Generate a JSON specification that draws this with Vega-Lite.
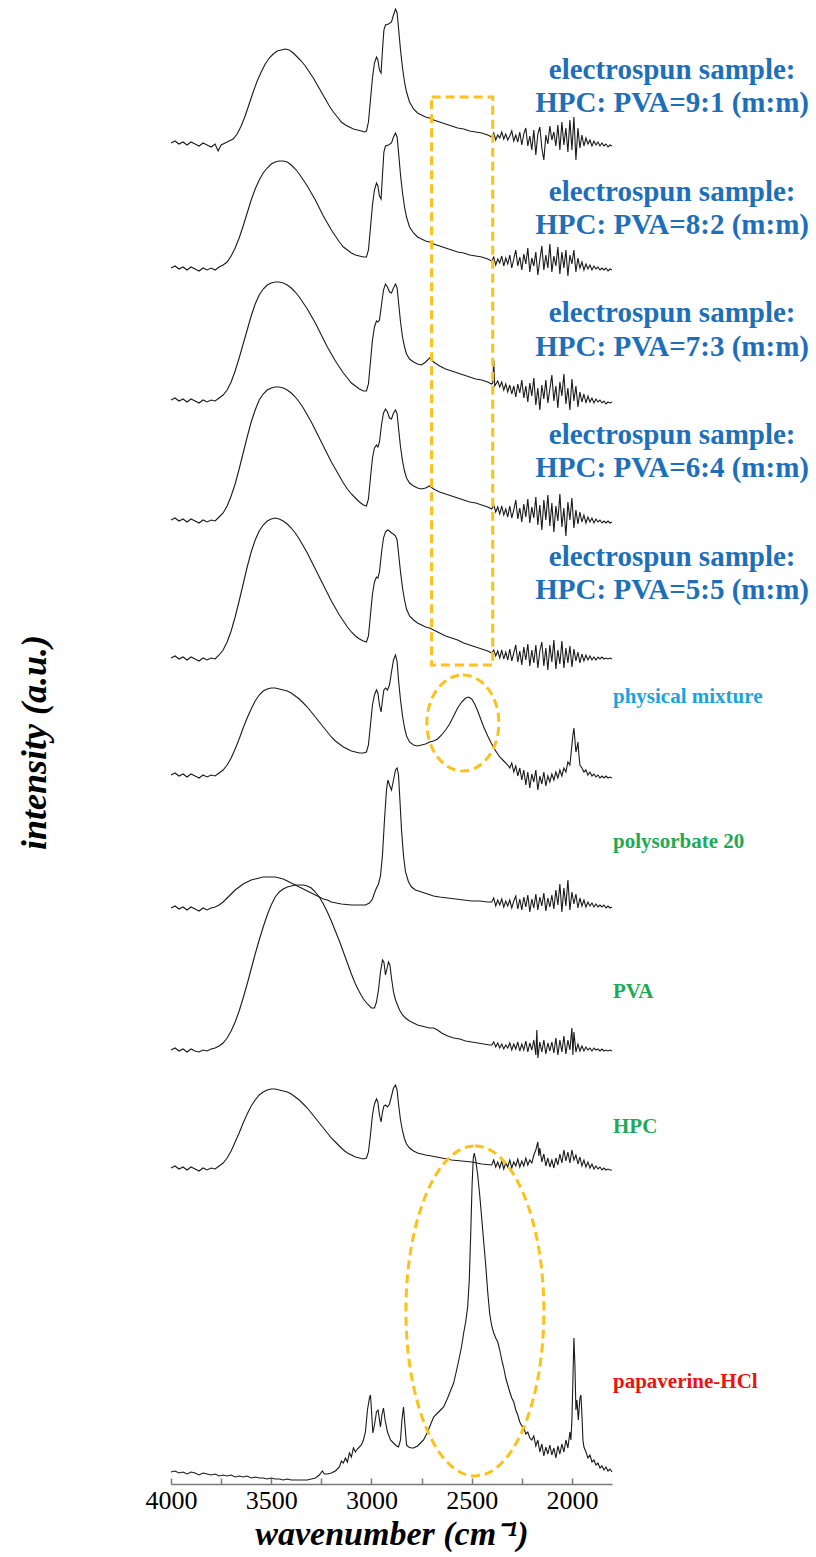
{
"$schema": "https://vega.github.io/schema/vega-lite/v6.json",
"width": 441,
"height": 1484,
"autosize": {"type": "none"},
"padding": {"left": 171, "top": 0, "right": 204, "bottom": 73},
"background": "white",
"config": {"view": {"stroke": null}, "font": "Liberation Serif", "axis": {"grid": false}},
"encoding": {
  "x": {"field": "w", "type": "quantitative",
    "scale": {"domain": [4000, 1800], "nice": false, "zero": false},
    "axis": {"values": [4000, 3750, 3500, 3250, 3000, 2750, 2500, 2250, 2000], "format": "d",
      "labelExpr": "datum.value % 500 === 0 ? datum.label : ''",
      "tickSize": -6, "tickColor": "#7a7a7a", "tickWidth": 1.5, "domainColor": "#7a7a7a", "domainWidth": 1.5,
      "labelPadding": 9, "labelFlush": false, "labelBound": false, "labelOverlap": false,
      "labelFont": "Liberation Serif", "labelFontSize": 26, "labelColor": "black",
      "title": "wavenumber (cm⁻¹)", "titleFont": "Liberation Serif", "titleFontSize": 34,
      "titleFontWeight": "bold", "titleFontStyle": "italic", "titleColor": "black", "titlePadding": 4}},
  "y": {"field": "i", "type": "quantitative",
    "scale": {"domain": [0, 1484], "nice": false, "zero": false},
    "axis": {"domain": false, "ticks": false, "labels": false,
      "title": "intensity (a.u.)", "titleFont": "Liberation Serif", "titleFontSize": 36,
      "titleFontWeight": "bold", "titleFontStyle": "italic", "titleColor": "black", "titlePadding": 118}}
},
"layer": [
{
"data": {"values": [
{"s":"9:1","w":4000,"i":1341},{"s":"9:1","w":3980,"i":1343},{"s":"9:1","w":3960,"i":1340},{"s":"9:1","w":3940,"i":1342},{"s":"9:1","w":3920,"i":1339},{"s":"9:1","w":3900,"i":1342},{"s":"9:1","w":3880,"i":1340},{"s":"9:1","w":3860,"i":1338},{"s":"9:1","w":3840,"i":1341},{"s":"9:1","w":3820,"i":1339},{"s":"9:1","w":3800,"i":1337},{"s":"9:1","w":3780,"i":1340},{"s":"9:1","w":3765,"i":1333},{"s":"9:1","w":3750,"i":1339},{"s":"9:1","w":3730,"i":1341},{"s":"9:1","w":3710,"i":1343},{"s":"9:1","w":3690,"i":1345},{"s":"9:1","w":3670,"i":1350},{"s":"9:1","w":3650,"i":1358},{"s":"9:1","w":3630,"i":1368},{"s":"9:1","w":3610,"i":1380},{"s":"9:1","w":3590,"i":1392},{"s":"9:1","w":3570,"i":1403},{"s":"9:1","w":3550,"i":1412},{"s":"9:1","w":3530,"i":1420},{"s":"9:1","w":3510,"i":1426},{"s":"9:1","w":3490,"i":1430},{"s":"9:1","w":3470,"i":1433},{"s":"9:1","w":3450,"i":1434},{"s":"9:1","w":3430,"i":1435},{"s":"9:1","w":3410,"i":1434},{"s":"9:1","w":3390,"i":1431},{"s":"9:1","w":3370,"i":1427},{"s":"9:1","w":3350,"i":1423},{"s":"9:1","w":3330,"i":1418},{"s":"9:1","w":3310,"i":1412},{"s":"9:1","w":3290,"i":1406},{"s":"9:1","w":3270,"i":1399},{"s":"9:1","w":3250,"i":1392},{"s":"9:1","w":3230,"i":1385},{"s":"9:1","w":3210,"i":1378},{"s":"9:1","w":3190,"i":1372},{"s":"9:1","w":3170,"i":1367},{"s":"9:1","w":3150,"i":1362},{"s":"9:1","w":3130,"i":1359},{"s":"9:1","w":3110,"i":1357},{"s":"9:1","w":3090,"i":1355},{"s":"9:1","w":3070,"i":1354},{"s":"9:1","w":3050,"i":1353},{"s":"9:1","w":3035,"i":1352},{"s":"9:1","w":3025,"i":1353},{"s":"9:1","w":3015,"i":1362},{"s":"9:1","w":3005,"i":1384},{"s":"9:1","w":2995,"i":1406},{"s":"9:1","w":2985,"i":1421},{"s":"9:1","w":2975,"i":1427},{"s":"9:1","w":2968,"i":1424},{"s":"9:1","w":2960,"i":1414},{"s":"9:1","w":2952,"i":1411},{"s":"9:1","w":2945,"i":1434},{"s":"9:1","w":2938,"i":1454},{"s":"9:1","w":2930,"i":1459},{"s":"9:1","w":2915,"i":1460},{"s":"9:1","w":2900,"i":1462},{"s":"9:1","w":2890,"i":1469},{"s":"9:1","w":2880,"i":1475},{"s":"9:1","w":2872,"i":1471},{"s":"9:1","w":2865,"i":1456},{"s":"9:1","w":2855,"i":1434},{"s":"9:1","w":2845,"i":1416},{"s":"9:1","w":2835,"i":1402},{"s":"9:1","w":2825,"i":1392},{"s":"9:1","w":2810,"i":1382},{"s":"9:1","w":2790,"i":1375},{"s":"9:1","w":2770,"i":1371},{"s":"9:1","w":2750,"i":1369},{"s":"9:1","w":2730,"i":1367},{"s":"9:1","w":2710,"i":1366},{"s":"9:1","w":2690,"i":1364},{"s":"9:1","w":2660,"i":1362},{"s":"9:1","w":2630,"i":1360},{"s":"9:1","w":2600,"i":1358},{"s":"9:1","w":2570,"i":1356},{"s":"9:1","w":2540,"i":1355},{"s":"9:1","w":2510,"i":1353},{"s":"9:1","w":2480,"i":1352},{"s":"9:1","w":2450,"i":1351},{"s":"9:1","w":2420,"i":1349},{"s":"9:1","w":2400,"i":1347},{"s":"9:1","w":2390,"i":1351},{"s":"9:1","w":2380,"i":1344},{"s":"9:1","w":2370,"i":1349},{"s":"9:1","w":2360,"i":1346},{"s":"9:1","w":2350,"i":1352},{"s":"9:1","w":2340,"i":1345},{"s":"9:1","w":2330,"i":1350},{"s":"9:1","w":2320,"i":1344},{"s":"9:1","w":2310,"i":1348},{"s":"9:1","w":2300,"i":1353},{"s":"9:1","w":2290,"i":1343},{"s":"9:1","w":2280,"i":1349},{"s":"9:1","w":2270,"i":1342},{"s":"9:1","w":2260,"i":1352},{"s":"9:1","w":2250,"i":1339},{"s":"9:1","w":2240,"i":1350},{"s":"9:1","w":2230,"i":1356},{"s":"9:1","w":2220,"i":1338},{"s":"9:1","w":2210,"i":1348},{"s":"9:1","w":2200,"i":1334},{"s":"9:1","w":2190,"i":1354},{"s":"9:1","w":2180,"i":1329},{"s":"9:1","w":2170,"i":1350},{"s":"9:1","w":2160,"i":1357},{"s":"9:1","w":2150,"i":1336},{"s":"9:1","w":2140,"i":1324},{"s":"9:1","w":2130,"i":1349},{"s":"9:1","w":2120,"i":1340},{"s":"9:1","w":2110,"i":1358},{"s":"9:1","w":2100,"i":1344},{"s":"9:1","w":2090,"i":1352},{"s":"9:1","w":2080,"i":1338},{"s":"9:1","w":2070,"i":1359},{"s":"9:1","w":2060,"i":1334},{"s":"9:1","w":2050,"i":1362},{"s":"9:1","w":2040,"i":1339},{"s":"9:1","w":2030,"i":1356},{"s":"9:1","w":2020,"i":1332},{"s":"9:1","w":2010,"i":1364},{"s":"9:1","w":2000,"i":1334},{"s":"9:1","w":1990,"i":1367},{"s":"9:1","w":1980,"i":1324},{"s":"9:1","w":1970,"i":1356},{"s":"9:1","w":1960,"i":1336},{"s":"9:1","w":1950,"i":1349},{"s":"9:1","w":1940,"i":1338},{"s":"9:1","w":1930,"i":1346},{"s":"9:1","w":1920,"i":1340},{"s":"9:1","w":1910,"i":1344},{"s":"9:1","w":1900,"i":1338},{"s":"9:1","w":1890,"i":1343},{"s":"9:1","w":1880,"i":1339},{"s":"9:1","w":1870,"i":1342},{"s":"9:1","w":1860,"i":1338},{"s":"9:1","w":1850,"i":1341},{"s":"9:1","w":1840,"i":1338},{"s":"9:1","w":1830,"i":1340},{"s":"9:1","w":1820,"i":1337},{"s":"9:1","w":1810,"i":1339},{"s":"9:1","w":1800,"i":1338},
{"s":"8:2","w":4000,"i":1216},{"s":"8:2","w":3980,"i":1218},{"s":"8:2","w":3960,"i":1215},{"s":"8:2","w":3940,"i":1217},{"s":"8:2","w":3920,"i":1214},{"s":"8:2","w":3900,"i":1217},{"s":"8:2","w":3880,"i":1215},{"s":"8:2","w":3860,"i":1213},{"s":"8:2","w":3840,"i":1216},{"s":"8:2","w":3820,"i":1214},{"s":"8:2","w":3800,"i":1216},{"s":"8:2","w":3780,"i":1214},{"s":"8:2","w":3760,"i":1217},{"s":"8:2","w":3740,"i":1219},{"s":"8:2","w":3720,"i":1222},{"s":"8:2","w":3700,"i":1228},{"s":"8:2","w":3680,"i":1236},{"s":"8:2","w":3660,"i":1246},{"s":"8:2","w":3640,"i":1258},{"s":"8:2","w":3620,"i":1271},{"s":"8:2","w":3600,"i":1284},{"s":"8:2","w":3580,"i":1295},{"s":"8:2","w":3560,"i":1304},{"s":"8:2","w":3540,"i":1311},{"s":"8:2","w":3520,"i":1316},{"s":"8:2","w":3500,"i":1320},{"s":"8:2","w":3480,"i":1322},{"s":"8:2","w":3460,"i":1323},{"s":"8:2","w":3440,"i":1323},{"s":"8:2","w":3420,"i":1322},{"s":"8:2","w":3400,"i":1319},{"s":"8:2","w":3380,"i":1315},{"s":"8:2","w":3360,"i":1310},{"s":"8:2","w":3340,"i":1304},{"s":"8:2","w":3320,"i":1298},{"s":"8:2","w":3300,"i":1291},{"s":"8:2","w":3280,"i":1284},{"s":"8:2","w":3260,"i":1276},{"s":"8:2","w":3240,"i":1268},{"s":"8:2","w":3220,"i":1261},{"s":"8:2","w":3200,"i":1254},{"s":"8:2","w":3180,"i":1248},{"s":"8:2","w":3160,"i":1242},{"s":"8:2","w":3140,"i":1237},{"s":"8:2","w":3120,"i":1234},{"s":"8:2","w":3100,"i":1231},{"s":"8:2","w":3080,"i":1229},{"s":"8:2","w":3060,"i":1228},{"s":"8:2","w":3040,"i":1227},{"s":"8:2","w":3025,"i":1227},{"s":"8:2","w":3015,"i":1234},{"s":"8:2","w":3005,"i":1256},{"s":"8:2","w":2995,"i":1279},{"s":"8:2","w":2985,"i":1294},{"s":"8:2","w":2975,"i":1301},{"s":"8:2","w":2968,"i":1298},{"s":"8:2","w":2960,"i":1288},{"s":"8:2","w":2952,"i":1285},{"s":"8:2","w":2945,"i":1309},{"s":"8:2","w":2938,"i":1332},{"s":"8:2","w":2930,"i":1338},{"s":"8:2","w":2915,"i":1339},{"s":"8:2","w":2900,"i":1341},{"s":"8:2","w":2890,"i":1347},{"s":"8:2","w":2880,"i":1351},{"s":"8:2","w":2872,"i":1347},{"s":"8:2","w":2865,"i":1332},{"s":"8:2","w":2855,"i":1309},{"s":"8:2","w":2845,"i":1291},{"s":"8:2","w":2835,"i":1277},{"s":"8:2","w":2825,"i":1267},{"s":"8:2","w":2810,"i":1257},{"s":"8:2","w":2790,"i":1251},{"s":"8:2","w":2770,"i":1247},{"s":"8:2","w":2750,"i":1245},{"s":"8:2","w":2730,"i":1243},{"s":"8:2","w":2710,"i":1242},{"s":"8:2","w":2690,"i":1240},{"s":"8:2","w":2660,"i":1238},{"s":"8:2","w":2630,"i":1236},{"s":"8:2","w":2600,"i":1234},{"s":"8:2","w":2570,"i":1232},{"s":"8:2","w":2540,"i":1231},{"s":"8:2","w":2510,"i":1229},{"s":"8:2","w":2480,"i":1228},{"s":"8:2","w":2450,"i":1227},{"s":"8:2","w":2420,"i":1225},{"s":"8:2","w":2400,"i":1223},{"s":"8:2","w":2390,"i":1227},{"s":"8:2","w":2380,"i":1219},{"s":"8:2","w":2370,"i":1225},{"s":"8:2","w":2360,"i":1221},{"s":"8:2","w":2350,"i":1228},{"s":"8:2","w":2340,"i":1218},{"s":"8:2","w":2330,"i":1226},{"s":"8:2","w":2320,"i":1220},{"s":"8:2","w":2310,"i":1229},{"s":"8:2","w":2300,"i":1216},{"s":"8:2","w":2290,"i":1225},{"s":"8:2","w":2280,"i":1234},{"s":"8:2","w":2270,"i":1218},{"s":"8:2","w":2260,"i":1227},{"s":"8:2","w":2250,"i":1214},{"s":"8:2","w":2240,"i":1230},{"s":"8:2","w":2230,"i":1220},{"s":"8:2","w":2220,"i":1236},{"s":"8:2","w":2210,"i":1212},{"s":"8:2","w":2200,"i":1226},{"s":"8:2","w":2190,"i":1218},{"s":"8:2","w":2180,"i":1232},{"s":"8:2","w":2170,"i":1209},{"s":"8:2","w":2160,"i":1224},{"s":"8:2","w":2150,"i":1238},{"s":"8:2","w":2140,"i":1214},{"s":"8:2","w":2130,"i":1229},{"s":"8:2","w":2120,"i":1216},{"s":"8:2","w":2110,"i":1240},{"s":"8:2","w":2100,"i":1212},{"s":"8:2","w":2090,"i":1228},{"s":"8:2","w":2080,"i":1218},{"s":"8:2","w":2070,"i":1237},{"s":"8:2","w":2060,"i":1210},{"s":"8:2","w":2050,"i":1232},{"s":"8:2","w":2040,"i":1216},{"s":"8:2","w":2030,"i":1234},{"s":"8:2","w":2020,"i":1208},{"s":"8:2","w":2010,"i":1229},{"s":"8:2","w":2000,"i":1220},{"s":"8:2","w":1990,"i":1234},{"s":"8:2","w":1980,"i":1212},{"s":"8:2","w":1970,"i":1226},{"s":"8:2","w":1960,"i":1216},{"s":"8:2","w":1950,"i":1222},{"s":"8:2","w":1940,"i":1214},{"s":"8:2","w":1930,"i":1220},{"s":"8:2","w":1920,"i":1215},{"s":"8:2","w":1910,"i":1219},{"s":"8:2","w":1900,"i":1214},{"s":"8:2","w":1890,"i":1218},{"s":"8:2","w":1880,"i":1215},{"s":"8:2","w":1870,"i":1217},{"s":"8:2","w":1860,"i":1214},{"s":"8:2","w":1850,"i":1216},{"s":"8:2","w":1840,"i":1214},{"s":"8:2","w":1830,"i":1216},{"s":"8:2","w":1820,"i":1213},{"s":"8:2","w":1810,"i":1215},{"s":"8:2","w":1800,"i":1214},
{"s":"7:3","w":4000,"i":1084},{"s":"7:3","w":3980,"i":1086},{"s":"7:3","w":3960,"i":1083},{"s":"7:3","w":3940,"i":1085},{"s":"7:3","w":3920,"i":1082},{"s":"7:3","w":3900,"i":1085},{"s":"7:3","w":3880,"i":1083},{"s":"7:3","w":3860,"i":1081},{"s":"7:3","w":3840,"i":1084},{"s":"7:3","w":3820,"i":1082},{"s":"7:3","w":3800,"i":1084},{"s":"7:3","w":3780,"i":1083},{"s":"7:3","w":3760,"i":1086},{"s":"7:3","w":3740,"i":1089},{"s":"7:3","w":3720,"i":1094},{"s":"7:3","w":3700,"i":1102},{"s":"7:3","w":3680,"i":1113},{"s":"7:3","w":3660,"i":1126},{"s":"7:3","w":3640,"i":1140},{"s":"7:3","w":3620,"i":1154},{"s":"7:3","w":3600,"i":1168},{"s":"7:3","w":3580,"i":1180},{"s":"7:3","w":3560,"i":1189},{"s":"7:3","w":3540,"i":1195},{"s":"7:3","w":3520,"i":1199},{"s":"7:3","w":3500,"i":1201},{"s":"7:3","w":3480,"i":1202},{"s":"7:3","w":3460,"i":1202},{"s":"7:3","w":3440,"i":1201},{"s":"7:3","w":3420,"i":1199},{"s":"7:3","w":3400,"i":1196},{"s":"7:3","w":3380,"i":1192},{"s":"7:3","w":3360,"i":1187},{"s":"7:3","w":3340,"i":1181},{"s":"7:3","w":3320,"i":1175},{"s":"7:3","w":3300,"i":1168},{"s":"7:3","w":3280,"i":1161},{"s":"7:3","w":3260,"i":1153},{"s":"7:3","w":3240,"i":1145},{"s":"7:3","w":3220,"i":1137},{"s":"7:3","w":3200,"i":1130},{"s":"7:3","w":3180,"i":1123},{"s":"7:3","w":3160,"i":1117},{"s":"7:3","w":3140,"i":1111},{"s":"7:3","w":3120,"i":1106},{"s":"7:3","w":3100,"i":1101},{"s":"7:3","w":3080,"i":1098},{"s":"7:3","w":3060,"i":1095},{"s":"7:3","w":3040,"i":1093},{"s":"7:3","w":3025,"i":1093},{"s":"7:3","w":3015,"i":1100},{"s":"7:3","w":3005,"i":1122},{"s":"7:3","w":2995,"i":1144},{"s":"7:3","w":2985,"i":1157},{"s":"7:3","w":2975,"i":1163},{"s":"7:3","w":2968,"i":1162},{"s":"7:3","w":2960,"i":1164},{"s":"7:3","w":2950,"i":1179},{"s":"7:3","w":2940,"i":1194},{"s":"7:3","w":2930,"i":1200},{"s":"7:3","w":2920,"i":1197},{"s":"7:3","w":2910,"i":1192},{"s":"7:3","w":2900,"i":1191},{"s":"7:3","w":2890,"i":1196},{"s":"7:3","w":2880,"i":1200},{"s":"7:3","w":2872,"i":1196},{"s":"7:3","w":2865,"i":1182},{"s":"7:3","w":2855,"i":1162},{"s":"7:3","w":2845,"i":1147},{"s":"7:3","w":2835,"i":1137},{"s":"7:3","w":2825,"i":1130},{"s":"7:3","w":2810,"i":1125},{"s":"7:3","w":2790,"i":1122},{"s":"7:3","w":2770,"i":1120},{"s":"7:3","w":2750,"i":1119},{"s":"7:3","w":2730,"i":1122},{"s":"7:3","w":2710,"i":1126},{"s":"7:3","w":2690,"i":1122},{"s":"7:3","w":2660,"i":1118},{"s":"7:3","w":2630,"i":1115},{"s":"7:3","w":2600,"i":1113},{"s":"7:3","w":2570,"i":1111},{"s":"7:3","w":2540,"i":1109},{"s":"7:3","w":2510,"i":1107},{"s":"7:3","w":2480,"i":1105},{"s":"7:3","w":2450,"i":1104},{"s":"7:3","w":2420,"i":1102},{"s":"7:3","w":2400,"i":1100},{"s":"7:3","w":2395,"i":1101},{"s":"7:3","w":2390,"i":1124},{"s":"7:3","w":2385,"i":1098},{"s":"7:3","w":2370,"i":1103},{"s":"7:3","w":2360,"i":1097},{"s":"7:3","w":2350,"i":1102},{"s":"7:3","w":2340,"i":1094},{"s":"7:3","w":2330,"i":1100},{"s":"7:3","w":2320,"i":1092},{"s":"7:3","w":2310,"i":1099},{"s":"7:3","w":2300,"i":1090},{"s":"7:3","w":2290,"i":1098},{"s":"7:3","w":2280,"i":1087},{"s":"7:3","w":2270,"i":1100},{"s":"7:3","w":2260,"i":1091},{"s":"7:3","w":2250,"i":1104},{"s":"7:3","w":2240,"i":1086},{"s":"7:3","w":2230,"i":1098},{"s":"7:3","w":2220,"i":1082},{"s":"7:3","w":2210,"i":1101},{"s":"7:3","w":2200,"i":1088},{"s":"7:3","w":2190,"i":1106},{"s":"7:3","w":2180,"i":1079},{"s":"7:3","w":2170,"i":1096},{"s":"7:3","w":2160,"i":1074},{"s":"7:3","w":2150,"i":1099},{"s":"7:3","w":2140,"i":1085},{"s":"7:3","w":2130,"i":1104},{"s":"7:3","w":2120,"i":1081},{"s":"7:3","w":2110,"i":1095},{"s":"7:3","w":2100,"i":1109},{"s":"7:3","w":2090,"i":1083},{"s":"7:3","w":2080,"i":1098},{"s":"7:3","w":2070,"i":1076},{"s":"7:3","w":2060,"i":1102},{"s":"7:3","w":2050,"i":1088},{"s":"7:3","w":2040,"i":1110},{"s":"7:3","w":2030,"i":1080},{"s":"7:3","w":2020,"i":1096},{"s":"7:3","w":2010,"i":1074},{"s":"7:3","w":2000,"i":1105},{"s":"7:3","w":1990,"i":1083},{"s":"7:3","w":1980,"i":1098},{"s":"7:3","w":1970,"i":1077},{"s":"7:3","w":1960,"i":1092},{"s":"7:3","w":1950,"i":1082},{"s":"7:3","w":1940,"i":1090},{"s":"7:3","w":1930,"i":1081},{"s":"7:3","w":1920,"i":1088},{"s":"7:3","w":1910,"i":1082},{"s":"7:3","w":1900,"i":1086},{"s":"7:3","w":1890,"i":1081},{"s":"7:3","w":1880,"i":1085},{"s":"7:3","w":1870,"i":1082},{"s":"7:3","w":1860,"i":1084},{"s":"7:3","w":1850,"i":1081},{"s":"7:3","w":1840,"i":1083},{"s":"7:3","w":1830,"i":1080},{"s":"7:3","w":1820,"i":1082},{"s":"7:3","w":1810,"i":1081},{"s":"7:3","w":1800,"i":1082},
{"s":"6:4","w":4000,"i":964},{"s":"6:4","w":3980,"i":966},{"s":"6:4","w":3960,"i":963},{"s":"6:4","w":3940,"i":965},{"s":"6:4","w":3920,"i":962},{"s":"6:4","w":3900,"i":965},{"s":"6:4","w":3880,"i":963},{"s":"6:4","w":3860,"i":961},{"s":"6:4","w":3840,"i":964},{"s":"6:4","w":3820,"i":962},{"s":"6:4","w":3800,"i":964},{"s":"6:4","w":3780,"i":963},{"s":"6:4","w":3760,"i":967},{"s":"6:4","w":3740,"i":971},{"s":"6:4","w":3720,"i":978},{"s":"6:4","w":3700,"i":988},{"s":"6:4","w":3680,"i":1000},{"s":"6:4","w":3660,"i":1015},{"s":"6:4","w":3640,"i":1031},{"s":"6:4","w":3620,"i":1047},{"s":"6:4","w":3600,"i":1062},{"s":"6:4","w":3580,"i":1074},{"s":"6:4","w":3560,"i":1084},{"s":"6:4","w":3540,"i":1090},{"s":"6:4","w":3520,"i":1094},{"s":"6:4","w":3500,"i":1096},{"s":"6:4","w":3480,"i":1097},{"s":"6:4","w":3460,"i":1097},{"s":"6:4","w":3440,"i":1096},{"s":"6:4","w":3420,"i":1094},{"s":"6:4","w":3400,"i":1091},{"s":"6:4","w":3380,"i":1087},{"s":"6:4","w":3360,"i":1082},{"s":"6:4","w":3340,"i":1076},{"s":"6:4","w":3320,"i":1069},{"s":"6:4","w":3300,"i":1062},{"s":"6:4","w":3280,"i":1054},{"s":"6:4","w":3260,"i":1046},{"s":"6:4","w":3240,"i":1038},{"s":"6:4","w":3220,"i":1030},{"s":"6:4","w":3200,"i":1022},{"s":"6:4","w":3180,"i":1015},{"s":"6:4","w":3160,"i":1008},{"s":"6:4","w":3140,"i":1001},{"s":"6:4","w":3120,"i":995},{"s":"6:4","w":3100,"i":990},{"s":"6:4","w":3080,"i":986},{"s":"6:4","w":3060,"i":982},{"s":"6:4","w":3040,"i":979},{"s":"6:4","w":3025,"i":978},{"s":"6:4","w":3015,"i":985},{"s":"6:4","w":3005,"i":1006},{"s":"6:4","w":2995,"i":1026},{"s":"6:4","w":2985,"i":1036},{"s":"6:4","w":2975,"i":1039},{"s":"6:4","w":2968,"i":1037},{"s":"6:4","w":2960,"i":1042},{"s":"6:4","w":2950,"i":1059},{"s":"6:4","w":2940,"i":1071},{"s":"6:4","w":2930,"i":1075},{"s":"6:4","w":2920,"i":1072},{"s":"6:4","w":2910,"i":1066},{"s":"6:4","w":2900,"i":1065},{"s":"6:4","w":2890,"i":1071},{"s":"6:4","w":2880,"i":1074},{"s":"6:4","w":2872,"i":1070},{"s":"6:4","w":2865,"i":1056},{"s":"6:4","w":2855,"i":1037},{"s":"6:4","w":2845,"i":1023},{"s":"6:4","w":2835,"i":1013},{"s":"6:4","w":2825,"i":1006},{"s":"6:4","w":2810,"i":1001},{"s":"6:4","w":2790,"i":998},{"s":"6:4","w":2770,"i":996},{"s":"6:4","w":2750,"i":995},{"s":"6:4","w":2730,"i":996},{"s":"6:4","w":2710,"i":998},{"s":"6:4","w":2690,"i":995},{"s":"6:4","w":2660,"i":992},{"s":"6:4","w":2630,"i":990},{"s":"6:4","w":2600,"i":988},{"s":"6:4","w":2570,"i":986},{"s":"6:4","w":2540,"i":984},{"s":"6:4","w":2510,"i":982},{"s":"6:4","w":2480,"i":981},{"s":"6:4","w":2450,"i":979},{"s":"6:4","w":2420,"i":977},{"s":"6:4","w":2400,"i":975},{"s":"6:4","w":2390,"i":979},{"s":"6:4","w":2380,"i":972},{"s":"6:4","w":2370,"i":977},{"s":"6:4","w":2360,"i":970},{"s":"6:4","w":2350,"i":978},{"s":"6:4","w":2340,"i":969},{"s":"6:4","w":2330,"i":975},{"s":"6:4","w":2320,"i":967},{"s":"6:4","w":2310,"i":978},{"s":"6:4","w":2300,"i":966},{"s":"6:4","w":2290,"i":974},{"s":"6:4","w":2280,"i":984},{"s":"6:4","w":2270,"i":965},{"s":"6:4","w":2260,"i":976},{"s":"6:4","w":2250,"i":962},{"s":"6:4","w":2240,"i":980},{"s":"6:4","w":2230,"i":967},{"s":"6:4","w":2220,"i":985},{"s":"6:4","w":2210,"i":961},{"s":"6:4","w":2200,"i":977},{"s":"6:4","w":2190,"i":966},{"s":"6:4","w":2180,"i":987},{"s":"6:4","w":2170,"i":959},{"s":"6:4","w":2160,"i":979},{"s":"6:4","w":2150,"i":954},{"s":"6:4","w":2140,"i":984},{"s":"6:4","w":2130,"i":964},{"s":"6:4","w":2120,"i":989},{"s":"6:4","w":2110,"i":958},{"s":"6:4","w":2100,"i":981},{"s":"6:4","w":2090,"i":952},{"s":"6:4","w":2080,"i":978},{"s":"6:4","w":2070,"i":963},{"s":"6:4","w":2060,"i":990},{"s":"6:4","w":2050,"i":957},{"s":"6:4","w":2040,"i":976},{"s":"6:4","w":2030,"i":948},{"s":"6:4","w":2020,"i":982},{"s":"6:4","w":2010,"i":964},{"s":"6:4","w":2000,"i":986},{"s":"6:4","w":1990,"i":956},{"s":"6:4","w":1980,"i":974},{"s":"6:4","w":1970,"i":960},{"s":"6:4","w":1960,"i":972},{"s":"6:4","w":1950,"i":962},{"s":"6:4","w":1940,"i":969},{"s":"6:4","w":1930,"i":961},{"s":"6:4","w":1920,"i":967},{"s":"6:4","w":1910,"i":962},{"s":"6:4","w":1900,"i":966},{"s":"6:4","w":1890,"i":961},{"s":"6:4","w":1880,"i":965},{"s":"6:4","w":1870,"i":962},{"s":"6:4","w":1860,"i":964},{"s":"6:4","w":1850,"i":961},{"s":"6:4","w":1840,"i":963},{"s":"6:4","w":1830,"i":961},{"s":"6:4","w":1820,"i":963},{"s":"6:4","w":1810,"i":961},{"s":"6:4","w":1800,"i":962},
{"s":"5:5","w":4000,"i":826},{"s":"5:5","w":3980,"i":828},{"s":"5:5","w":3960,"i":825},{"s":"5:5","w":3940,"i":827},{"s":"5:5","w":3920,"i":824},{"s":"5:5","w":3900,"i":827},{"s":"5:5","w":3880,"i":825},{"s":"5:5","w":3860,"i":823},{"s":"5:5","w":3840,"i":826},{"s":"5:5","w":3820,"i":824},{"s":"5:5","w":3800,"i":826},{"s":"5:5","w":3780,"i":825},{"s":"5:5","w":3760,"i":829},{"s":"5:5","w":3740,"i":834},{"s":"5:5","w":3720,"i":842},{"s":"5:5","w":3700,"i":853},{"s":"5:5","w":3680,"i":867},{"s":"5:5","w":3660,"i":883},{"s":"5:5","w":3640,"i":900},{"s":"5:5","w":3620,"i":917},{"s":"5:5","w":3600,"i":932},{"s":"5:5","w":3580,"i":944},{"s":"5:5","w":3560,"i":953},{"s":"5:5","w":3540,"i":959},{"s":"5:5","w":3520,"i":963},{"s":"5:5","w":3500,"i":965},{"s":"5:5","w":3480,"i":966},{"s":"5:5","w":3460,"i":965},{"s":"5:5","w":3440,"i":963},{"s":"5:5","w":3420,"i":960},{"s":"5:5","w":3400,"i":956},{"s":"5:5","w":3380,"i":951},{"s":"5:5","w":3360,"i":945},{"s":"5:5","w":3340,"i":938},{"s":"5:5","w":3320,"i":931},{"s":"5:5","w":3300,"i":923},{"s":"5:5","w":3280,"i":915},{"s":"5:5","w":3260,"i":907},{"s":"5:5","w":3240,"i":899},{"s":"5:5","w":3220,"i":891},{"s":"5:5","w":3200,"i":883},{"s":"5:5","w":3180,"i":876},{"s":"5:5","w":3160,"i":869},{"s":"5:5","w":3140,"i":863},{"s":"5:5","w":3120,"i":857},{"s":"5:5","w":3100,"i":852},{"s":"5:5","w":3080,"i":848},{"s":"5:5","w":3060,"i":845},{"s":"5:5","w":3040,"i":843},{"s":"5:5","w":3025,"i":842},{"s":"5:5","w":3015,"i":848},{"s":"5:5","w":3005,"i":869},{"s":"5:5","w":2995,"i":890},{"s":"5:5","w":2985,"i":902},{"s":"5:5","w":2975,"i":907},{"s":"5:5","w":2968,"i":906},{"s":"5:5","w":2960,"i":912},{"s":"5:5","w":2950,"i":931},{"s":"5:5","w":2940,"i":946},{"s":"5:5","w":2930,"i":952},{"s":"5:5","w":2920,"i":954},{"s":"5:5","w":2910,"i":953},{"s":"5:5","w":2900,"i":951},{"s":"5:5","w":2890,"i":950},{"s":"5:5","w":2880,"i":948},{"s":"5:5","w":2872,"i":944},{"s":"5:5","w":2865,"i":931},{"s":"5:5","w":2855,"i":912},{"s":"5:5","w":2845,"i":896},{"s":"5:5","w":2835,"i":884},{"s":"5:5","w":2825,"i":875},{"s":"5:5","w":2810,"i":868},{"s":"5:5","w":2790,"i":864},{"s":"5:5","w":2770,"i":861},{"s":"5:5","w":2750,"i":859},{"s":"5:5","w":2730,"i":857},{"s":"5:5","w":2710,"i":856},{"s":"5:5","w":2690,"i":854},{"s":"5:5","w":2660,"i":851},{"s":"5:5","w":2630,"i":848},{"s":"5:5","w":2600,"i":846},{"s":"5:5","w":2570,"i":844},{"s":"5:5","w":2540,"i":841},{"s":"5:5","w":2510,"i":839},{"s":"5:5","w":2480,"i":837},{"s":"5:5","w":2450,"i":835},{"s":"5:5","w":2420,"i":833},{"s":"5:5","w":2400,"i":831},{"s":"5:5","w":2390,"i":834},{"s":"5:5","w":2380,"i":828},{"s":"5:5","w":2370,"i":833},{"s":"5:5","w":2360,"i":826},{"s":"5:5","w":2350,"i":834},{"s":"5:5","w":2340,"i":825},{"s":"5:5","w":2330,"i":832},{"s":"5:5","w":2320,"i":824},{"s":"5:5","w":2310,"i":835},{"s":"5:5","w":2300,"i":823},{"s":"5:5","w":2290,"i":831},{"s":"5:5","w":2280,"i":839},{"s":"5:5","w":2270,"i":822},{"s":"5:5","w":2260,"i":833},{"s":"5:5","w":2250,"i":819},{"s":"5:5","w":2240,"i":837},{"s":"5:5","w":2230,"i":824},{"s":"5:5","w":2220,"i":840},{"s":"5:5","w":2210,"i":818},{"s":"5:5","w":2200,"i":834},{"s":"5:5","w":2190,"i":821},{"s":"5:5","w":2180,"i":839},{"s":"5:5","w":2170,"i":816},{"s":"5:5","w":2160,"i":833},{"s":"5:5","w":2150,"i":842},{"s":"5:5","w":2140,"i":818},{"s":"5:5","w":2130,"i":836},{"s":"5:5","w":2120,"i":814},{"s":"5:5","w":2110,"i":839},{"s":"5:5","w":2100,"i":822},{"s":"5:5","w":2090,"i":844},{"s":"5:5","w":2080,"i":815},{"s":"5:5","w":2070,"i":834},{"s":"5:5","w":2060,"i":820},{"s":"5:5","w":2050,"i":843},{"s":"5:5","w":2040,"i":816},{"s":"5:5","w":2030,"i":836},{"s":"5:5","w":2020,"i":821},{"s":"5:5","w":2010,"i":838},{"s":"5:5","w":2000,"i":817},{"s":"5:5","w":1990,"i":835},{"s":"5:5","w":1980,"i":823},{"s":"5:5","w":1970,"i":832},{"s":"5:5","w":1960,"i":821},{"s":"5:5","w":1950,"i":830},{"s":"5:5","w":1940,"i":823},{"s":"5:5","w":1930,"i":829},{"s":"5:5","w":1920,"i":824},{"s":"5:5","w":1910,"i":828},{"s":"5:5","w":1900,"i":824},{"s":"5:5","w":1890,"i":827},{"s":"5:5","w":1880,"i":824},{"s":"5:5","w":1870,"i":827},{"s":"5:5","w":1860,"i":825},{"s":"5:5","w":1850,"i":827},{"s":"5:5","w":1840,"i":825},{"s":"5:5","w":1830,"i":826},{"s":"5:5","w":1820,"i":825},{"s":"5:5","w":1810,"i":826},{"s":"5:5","w":1800,"i":825},
{"s":"mix","w":4000,"i":709},{"s":"mix","w":3980,"i":711},{"s":"mix","w":3960,"i":708},{"s":"mix","w":3940,"i":710},{"s":"mix","w":3920,"i":707},{"s":"mix","w":3900,"i":710},{"s":"mix","w":3880,"i":708},{"s":"mix","w":3860,"i":706},{"s":"mix","w":3840,"i":709},{"s":"mix","w":3820,"i":707},{"s":"mix","w":3800,"i":709},{"s":"mix","w":3780,"i":708},{"s":"mix","w":3760,"i":711},{"s":"mix","w":3740,"i":714},{"s":"mix","w":3720,"i":719},{"s":"mix","w":3700,"i":726},{"s":"mix","w":3680,"i":735},{"s":"mix","w":3660,"i":745},{"s":"mix","w":3640,"i":756},{"s":"mix","w":3620,"i":766},{"s":"mix","w":3600,"i":775},{"s":"mix","w":3580,"i":783},{"s":"mix","w":3560,"i":789},{"s":"mix","w":3540,"i":793},{"s":"mix","w":3520,"i":795},{"s":"mix","w":3500,"i":796},{"s":"mix","w":3480,"i":796},{"s":"mix","w":3460,"i":795},{"s":"mix","w":3440,"i":794},{"s":"mix","w":3420,"i":793},{"s":"mix","w":3400,"i":791},{"s":"mix","w":3380,"i":788},{"s":"mix","w":3360,"i":785},{"s":"mix","w":3340,"i":781},{"s":"mix","w":3320,"i":777},{"s":"mix","w":3300,"i":772},{"s":"mix","w":3280,"i":767},{"s":"mix","w":3260,"i":762},{"s":"mix","w":3240,"i":757},{"s":"mix","w":3220,"i":752},{"s":"mix","w":3200,"i":747},{"s":"mix","w":3180,"i":743},{"s":"mix","w":3160,"i":740},{"s":"mix","w":3140,"i":737},{"s":"mix","w":3120,"i":735},{"s":"mix","w":3100,"i":733},{"s":"mix","w":3080,"i":732},{"s":"mix","w":3060,"i":731},{"s":"mix","w":3040,"i":731},{"s":"mix","w":3025,"i":732},{"s":"mix","w":3015,"i":739},{"s":"mix","w":3005,"i":759},{"s":"mix","w":2995,"i":779},{"s":"mix","w":2985,"i":789},{"s":"mix","w":2975,"i":794},{"s":"mix","w":2968,"i":791},{"s":"mix","w":2960,"i":779},{"s":"mix","w":2952,"i":772},{"s":"mix","w":2945,"i":784},{"s":"mix","w":2938,"i":794},{"s":"mix","w":2930,"i":796},{"s":"mix","w":2920,"i":794},{"s":"mix","w":2910,"i":799},{"s":"mix","w":2900,"i":812},{"s":"mix","w":2890,"i":824},{"s":"mix","w":2880,"i":829},{"s":"mix","w":2872,"i":822},{"s":"mix","w":2865,"i":804},{"s":"mix","w":2855,"i":784},{"s":"mix","w":2845,"i":768},{"s":"mix","w":2835,"i":756},{"s":"mix","w":2825,"i":748},{"s":"mix","w":2810,"i":742},{"s":"mix","w":2790,"i":739},{"s":"mix","w":2770,"i":738},{"s":"mix","w":2750,"i":739},{"s":"mix","w":2730,"i":740},{"s":"mix","w":2710,"i":742},{"s":"mix","w":2690,"i":743},{"s":"mix","w":2670,"i":745},{"s":"mix","w":2650,"i":749},{"s":"mix","w":2630,"i":754},{"s":"mix","w":2610,"i":760},{"s":"mix","w":2590,"i":768},{"s":"mix","w":2570,"i":776},{"s":"mix","w":2550,"i":782},{"s":"mix","w":2530,"i":786},{"s":"mix","w":2515,"i":787},{"s":"mix","w":2500,"i":785},{"s":"mix","w":2485,"i":780},{"s":"mix","w":2470,"i":773},{"s":"mix","w":2455,"i":765},{"s":"mix","w":2440,"i":757},{"s":"mix","w":2420,"i":748},{"s":"mix","w":2400,"i":740},{"s":"mix","w":2380,"i":733},{"s":"mix","w":2360,"i":727},{"s":"mix","w":2340,"i":723},{"s":"mix","w":2320,"i":719},{"s":"mix","w":2310,"i":716},{"s":"mix","w":2300,"i":721},{"s":"mix","w":2290,"i":712},{"s":"mix","w":2280,"i":718},{"s":"mix","w":2270,"i":708},{"s":"mix","w":2260,"i":716},{"s":"mix","w":2250,"i":704},{"s":"mix","w":2240,"i":714},{"s":"mix","w":2230,"i":699},{"s":"mix","w":2220,"i":712},{"s":"mix","w":2210,"i":696},{"s":"mix","w":2200,"i":710},{"s":"mix","w":2190,"i":702},{"s":"mix","w":2180,"i":714},{"s":"mix","w":2170,"i":694},{"s":"mix","w":2160,"i":708},{"s":"mix","w":2150,"i":700},{"s":"mix","w":2140,"i":712},{"s":"mix","w":2130,"i":698},{"s":"mix","w":2120,"i":708},{"s":"mix","w":2110,"i":702},{"s":"mix","w":2100,"i":710},{"s":"mix","w":2090,"i":704},{"s":"mix","w":2080,"i":712},{"s":"mix","w":2070,"i":706},{"s":"mix","w":2060,"i":714},{"s":"mix","w":2050,"i":708},{"s":"mix","w":2040,"i":716},{"s":"mix","w":2030,"i":712},{"s":"mix","w":2020,"i":722},{"s":"mix","w":2010,"i":719},{"s":"mix","w":2000,"i":739},{"s":"mix","w":1995,"i":749},{"s":"mix","w":1990,"i":756},{"s":"mix","w":1985,"i":744},{"s":"mix","w":1980,"i":732},{"s":"mix","w":1975,"i":736},{"s":"mix","w":1970,"i":742},{"s":"mix","w":1965,"i":729},{"s":"mix","w":1960,"i":719},{"s":"mix","w":1950,"i":716},{"s":"mix","w":1940,"i":712},{"s":"mix","w":1930,"i":714},{"s":"mix","w":1920,"i":709},{"s":"mix","w":1910,"i":712},{"s":"mix","w":1900,"i":708},{"s":"mix","w":1890,"i":710},{"s":"mix","w":1880,"i":707},{"s":"mix","w":1870,"i":709},{"s":"mix","w":1860,"i":706},{"s":"mix","w":1850,"i":708},{"s":"mix","w":1840,"i":706},{"s":"mix","w":1830,"i":708},{"s":"mix","w":1820,"i":706},{"s":"mix","w":1810,"i":707},{"s":"mix","w":1800,"i":706},
{"s":"tw20","w":4000,"i":576},{"s":"tw20","w":3980,"i":578},{"s":"tw20","w":3960,"i":575},{"s":"tw20","w":3940,"i":577},{"s":"tw20","w":3920,"i":574},{"s":"tw20","w":3900,"i":577},{"s":"tw20","w":3880,"i":575},{"s":"tw20","w":3860,"i":573},{"s":"tw20","w":3840,"i":576},{"s":"tw20","w":3820,"i":574},{"s":"tw20","w":3800,"i":576},{"s":"tw20","w":3780,"i":577},{"s":"tw20","w":3760,"i":579},{"s":"tw20","w":3740,"i":582},{"s":"tw20","w":3720,"i":586},{"s":"tw20","w":3700,"i":590},{"s":"tw20","w":3680,"i":594},{"s":"tw20","w":3660,"i":597},{"s":"tw20","w":3640,"i":600},{"s":"tw20","w":3620,"i":602},{"s":"tw20","w":3600,"i":604},{"s":"tw20","w":3580,"i":605},{"s":"tw20","w":3560,"i":606},{"s":"tw20","w":3540,"i":607},{"s":"tw20","w":3520,"i":607},{"s":"tw20","w":3500,"i":607},{"s":"tw20","w":3480,"i":607},{"s":"tw20","w":3460,"i":606},{"s":"tw20","w":3440,"i":605},{"s":"tw20","w":3420,"i":603},{"s":"tw20","w":3400,"i":601},{"s":"tw20","w":3380,"i":599},{"s":"tw20","w":3360,"i":597},{"s":"tw20","w":3340,"i":595},{"s":"tw20","w":3320,"i":593},{"s":"tw20","w":3300,"i":591},{"s":"tw20","w":3280,"i":589},{"s":"tw20","w":3260,"i":587},{"s":"tw20","w":3240,"i":585},{"s":"tw20","w":3220,"i":584},{"s":"tw20","w":3200,"i":582},{"s":"tw20","w":3150,"i":580},{"s":"tw20","w":3100,"i":579},{"s":"tw20","w":3060,"i":579},{"s":"tw20","w":3030,"i":579},{"s":"tw20","w":3010,"i":581},{"s":"tw20","w":2995,"i":585},{"s":"tw20","w":2985,"i":591},{"s":"tw20","w":2975,"i":596},{"s":"tw20","w":2965,"i":600},{"s":"tw20","w":2955,"i":608},{"s":"tw20","w":2945,"i":629},{"s":"tw20","w":2935,"i":664},{"s":"tw20","w":2925,"i":694},{"s":"tw20","w":2918,"i":704},{"s":"tw20","w":2910,"i":699},{"s":"tw20","w":2900,"i":694},{"s":"tw20","w":2890,"i":704},{"s":"tw20","w":2880,"i":714},{"s":"tw20","w":2872,"i":716},{"s":"tw20","w":2865,"i":709},{"s":"tw20","w":2858,"i":684},{"s":"tw20","w":2850,"i":654},{"s":"tw20","w":2840,"i":628},{"s":"tw20","w":2830,"i":612},{"s":"tw20","w":2815,"i":602},{"s":"tw20","w":2800,"i":597},{"s":"tw20","w":2780,"i":594},{"s":"tw20","w":2750,"i":592},{"s":"tw20","w":2720,"i":590},{"s":"tw20","w":2690,"i":588},{"s":"tw20","w":2660,"i":587},{"s":"tw20","w":2620,"i":586},{"s":"tw20","w":2580,"i":585},{"s":"tw20","w":2540,"i":584},{"s":"tw20","w":2500,"i":583},{"s":"tw20","w":2460,"i":583},{"s":"tw20","w":2420,"i":582},{"s":"tw20","w":2400,"i":582},{"s":"tw20","w":2390,"i":586},{"s":"tw20","w":2380,"i":578},{"s":"tw20","w":2370,"i":584},{"s":"tw20","w":2360,"i":579},{"s":"tw20","w":2350,"i":585},{"s":"tw20","w":2340,"i":577},{"s":"tw20","w":2330,"i":583},{"s":"tw20","w":2320,"i":578},{"s":"tw20","w":2310,"i":584},{"s":"tw20","w":2300,"i":576},{"s":"tw20","w":2290,"i":583},{"s":"tw20","w":2280,"i":588},{"s":"tw20","w":2270,"i":575},{"s":"tw20","w":2260,"i":585},{"s":"tw20","w":2250,"i":574},{"s":"tw20","w":2240,"i":587},{"s":"tw20","w":2230,"i":577},{"s":"tw20","w":2220,"i":589},{"s":"tw20","w":2210,"i":572},{"s":"tw20","w":2200,"i":585},{"s":"tw20","w":2190,"i":576},{"s":"tw20","w":2180,"i":590},{"s":"tw20","w":2170,"i":574},{"s":"tw20","w":2160,"i":587},{"s":"tw20","w":2150,"i":578},{"s":"tw20","w":2140,"i":591},{"s":"tw20","w":2130,"i":573},{"s":"tw20","w":2120,"i":586},{"s":"tw20","w":2110,"i":577},{"s":"tw20","w":2100,"i":589},{"s":"tw20","w":2090,"i":575},{"s":"tw20","w":2080,"i":594},{"s":"tw20","w":2070,"i":579},{"s":"tw20","w":2060,"i":600},{"s":"tw20","w":2050,"i":572},{"s":"tw20","w":2040,"i":596},{"s":"tw20","w":2030,"i":578},{"s":"tw20","w":2020,"i":604},{"s":"tw20","w":2010,"i":574},{"s":"tw20","w":2000,"i":592},{"s":"tw20","w":1990,"i":580},{"s":"tw20","w":1980,"i":590},{"s":"tw20","w":1970,"i":576},{"s":"tw20","w":1960,"i":586},{"s":"tw20","w":1950,"i":578},{"s":"tw20","w":1940,"i":584},{"s":"tw20","w":1930,"i":577},{"s":"tw20","w":1920,"i":582},{"s":"tw20","w":1910,"i":578},{"s":"tw20","w":1900,"i":581},{"s":"tw20","w":1890,"i":577},{"s":"tw20","w":1880,"i":580},{"s":"tw20","w":1870,"i":577},{"s":"tw20","w":1860,"i":579},{"s":"tw20","w":1850,"i":577},{"s":"tw20","w":1840,"i":579},{"s":"tw20","w":1830,"i":576},{"s":"tw20","w":1820,"i":578},{"s":"tw20","w":1810,"i":576},{"s":"tw20","w":1800,"i":577},
{"s":"pva","w":4000,"i":434},{"s":"pva","w":3980,"i":436},{"s":"pva","w":3960,"i":433},{"s":"pva","w":3940,"i":435},{"s":"pva","w":3920,"i":432},{"s":"pva","w":3900,"i":435},{"s":"pva","w":3880,"i":433},{"s":"pva","w":3860,"i":432},{"s":"pva","w":3840,"i":434},{"s":"pva","w":3820,"i":433},{"s":"pva","w":3800,"i":435},{"s":"pva","w":3780,"i":436},{"s":"pva","w":3760,"i":438},{"s":"pva","w":3740,"i":441},{"s":"pva","w":3720,"i":446},{"s":"pva","w":3700,"i":453},{"s":"pva","w":3680,"i":462},{"s":"pva","w":3660,"i":473},{"s":"pva","w":3640,"i":486},{"s":"pva","w":3620,"i":500},{"s":"pva","w":3600,"i":515},{"s":"pva","w":3580,"i":530},{"s":"pva","w":3560,"i":544},{"s":"pva","w":3540,"i":557},{"s":"pva","w":3520,"i":569},{"s":"pva","w":3500,"i":579},{"s":"pva","w":3480,"i":587},{"s":"pva","w":3460,"i":592},{"s":"pva","w":3440,"i":595},{"s":"pva","w":3420,"i":597},{"s":"pva","w":3400,"i":598},{"s":"pva","w":3380,"i":599},{"s":"pva","w":3360,"i":599},{"s":"pva","w":3340,"i":599},{"s":"pva","w":3320,"i":598},{"s":"pva","w":3300,"i":596},{"s":"pva","w":3280,"i":592},{"s":"pva","w":3260,"i":587},{"s":"pva","w":3240,"i":580},{"s":"pva","w":3220,"i":572},{"s":"pva","w":3200,"i":563},{"s":"pva","w":3180,"i":553},{"s":"pva","w":3160,"i":543},{"s":"pva","w":3140,"i":532},{"s":"pva","w":3120,"i":521},{"s":"pva","w":3100,"i":510},{"s":"pva","w":3080,"i":500},{"s":"pva","w":3060,"i":492},{"s":"pva","w":3040,"i":485},{"s":"pva","w":3020,"i":480},{"s":"pva","w":3000,"i":476},{"s":"pva","w":2985,"i":476},{"s":"pva","w":2975,"i":482},{"s":"pva","w":2965,"i":494},{"s":"pva","w":2955,"i":512},{"s":"pva","w":2945,"i":524},{"s":"pva","w":2938,"i":522},{"s":"pva","w":2930,"i":509},{"s":"pva","w":2922,"i":516},{"s":"pva","w":2915,"i":522},{"s":"pva","w":2908,"i":519},{"s":"pva","w":2900,"i":506},{"s":"pva","w":2890,"i":492},{"s":"pva","w":2880,"i":484},{"s":"pva","w":2870,"i":479},{"s":"pva","w":2860,"i":474},{"s":"pva","w":2845,"i":469},{"s":"pva","w":2830,"i":466},{"s":"pva","w":2810,"i":463},{"s":"pva","w":2790,"i":461},{"s":"pva","w":2770,"i":459},{"s":"pva","w":2750,"i":458},{"s":"pva","w":2730,"i":457},{"s":"pva","w":2710,"i":456},{"s":"pva","w":2690,"i":456},{"s":"pva","w":2670,"i":454},{"s":"pva","w":2650,"i":451},{"s":"pva","w":2620,"i":448},{"s":"pva","w":2590,"i":446},{"s":"pva","w":2560,"i":445},{"s":"pva","w":2530,"i":443},{"s":"pva","w":2500,"i":442},{"s":"pva","w":2470,"i":441},{"s":"pva","w":2440,"i":440},{"s":"pva","w":2410,"i":439},{"s":"pva","w":2400,"i":439},{"s":"pva","w":2390,"i":442},{"s":"pva","w":2380,"i":437},{"s":"pva","w":2370,"i":441},{"s":"pva","w":2360,"i":436},{"s":"pva","w":2350,"i":440},{"s":"pva","w":2340,"i":435},{"s":"pva","w":2330,"i":439},{"s":"pva","w":2320,"i":436},{"s":"pva","w":2310,"i":441},{"s":"pva","w":2300,"i":434},{"s":"pva","w":2290,"i":440},{"s":"pva","w":2280,"i":435},{"s":"pva","w":2270,"i":442},{"s":"pva","w":2260,"i":433},{"s":"pva","w":2250,"i":440},{"s":"pva","w":2240,"i":434},{"s":"pva","w":2230,"i":443},{"s":"pva","w":2220,"i":432},{"s":"pva","w":2210,"i":441},{"s":"pva","w":2200,"i":434},{"s":"pva","w":2190,"i":444},{"s":"pva","w":2180,"i":429},{"s":"pva","w":2175,"i":454},{"s":"pva","w":2170,"i":426},{"s":"pva","w":2160,"i":442},{"s":"pva","w":2150,"i":432},{"s":"pva","w":2140,"i":444},{"s":"pva","w":2130,"i":430},{"s":"pva","w":2120,"i":441},{"s":"pva","w":2110,"i":433},{"s":"pva","w":2100,"i":442},{"s":"pva","w":2090,"i":431},{"s":"pva","w":2080,"i":446},{"s":"pva","w":2070,"i":429},{"s":"pva","w":2060,"i":444},{"s":"pva","w":2050,"i":432},{"s":"pva","w":2040,"i":448},{"s":"pva","w":2030,"i":430},{"s":"pva","w":2020,"i":444},{"s":"pva","w":2010,"i":434},{"s":"pva","w":2000,"i":456},{"s":"pva","w":1995,"i":429},{"s":"pva","w":1990,"i":452},{"s":"pva","w":1980,"i":432},{"s":"pva","w":1970,"i":440},{"s":"pva","w":1960,"i":433},{"s":"pva","w":1950,"i":438},{"s":"pva","w":1940,"i":433},{"s":"pva","w":1930,"i":437},{"s":"pva","w":1920,"i":434},{"s":"pva","w":1910,"i":436},{"s":"pva","w":1900,"i":433},{"s":"pva","w":1890,"i":436},{"s":"pva","w":1880,"i":434},{"s":"pva","w":1870,"i":435},{"s":"pva","w":1860,"i":433},{"s":"pva","w":1850,"i":435},{"s":"pva","w":1840,"i":433},{"s":"pva","w":1830,"i":434},{"s":"pva","w":1820,"i":433},{"s":"pva","w":1810,"i":434},{"s":"pva","w":1800,"i":433},
{"s":"hpc","w":4000,"i":316},{"s":"hpc","w":3980,"i":318},{"s":"hpc","w":3960,"i":315},{"s":"hpc","w":3940,"i":317},{"s":"hpc","w":3920,"i":314},{"s":"hpc","w":3900,"i":317},{"s":"hpc","w":3880,"i":315},{"s":"hpc","w":3860,"i":313},{"s":"hpc","w":3840,"i":316},{"s":"hpc","w":3820,"i":314},{"s":"hpc","w":3800,"i":316},{"s":"hpc","w":3780,"i":315},{"s":"hpc","w":3760,"i":318},{"s":"hpc","w":3740,"i":321},{"s":"hpc","w":3720,"i":326},{"s":"hpc","w":3700,"i":333},{"s":"hpc","w":3680,"i":342},{"s":"hpc","w":3660,"i":351},{"s":"hpc","w":3640,"i":361},{"s":"hpc","w":3620,"i":370},{"s":"hpc","w":3600,"i":378},{"s":"hpc","w":3580,"i":384},{"s":"hpc","w":3560,"i":389},{"s":"hpc","w":3540,"i":392},{"s":"hpc","w":3520,"i":394},{"s":"hpc","w":3500,"i":395},{"s":"hpc","w":3480,"i":395},{"s":"hpc","w":3460,"i":394},{"s":"hpc","w":3440,"i":393},{"s":"hpc","w":3420,"i":392},{"s":"hpc","w":3400,"i":390},{"s":"hpc","w":3380,"i":387},{"s":"hpc","w":3360,"i":384},{"s":"hpc","w":3340,"i":380},{"s":"hpc","w":3320,"i":376},{"s":"hpc","w":3300,"i":371},{"s":"hpc","w":3280,"i":366},{"s":"hpc","w":3260,"i":361},{"s":"hpc","w":3240,"i":356},{"s":"hpc","w":3220,"i":351},{"s":"hpc","w":3200,"i":346},{"s":"hpc","w":3180,"i":342},{"s":"hpc","w":3160,"i":338},{"s":"hpc","w":3140,"i":334},{"s":"hpc","w":3120,"i":331},{"s":"hpc","w":3100,"i":329},{"s":"hpc","w":3080,"i":327},{"s":"hpc","w":3060,"i":326},{"s":"hpc","w":3040,"i":325},{"s":"hpc","w":3025,"i":326},{"s":"hpc","w":3015,"i":332},{"s":"hpc","w":3005,"i":349},{"s":"hpc","w":2995,"i":369},{"s":"hpc","w":2985,"i":380},{"s":"hpc","w":2975,"i":385},{"s":"hpc","w":2968,"i":382},{"s":"hpc","w":2960,"i":369},{"s":"hpc","w":2952,"i":362},{"s":"hpc","w":2945,"i":372},{"s":"hpc","w":2938,"i":378},{"s":"hpc","w":2930,"i":379},{"s":"hpc","w":2920,"i":377},{"s":"hpc","w":2910,"i":380},{"s":"hpc","w":2900,"i":388},{"s":"hpc","w":2890,"i":396},{"s":"hpc","w":2880,"i":399},{"s":"hpc","w":2872,"i":394},{"s":"hpc","w":2865,"i":380},{"s":"hpc","w":2855,"i":364},{"s":"hpc","w":2845,"i":353},{"s":"hpc","w":2835,"i":345},{"s":"hpc","w":2825,"i":340},{"s":"hpc","w":2810,"i":336},{"s":"hpc","w":2790,"i":333},{"s":"hpc","w":2770,"i":331},{"s":"hpc","w":2750,"i":330},{"s":"hpc","w":2730,"i":329},{"s":"hpc","w":2700,"i":328},{"s":"hpc","w":2650,"i":326},{"s":"hpc","w":2600,"i":324},{"s":"hpc","w":2550,"i":323},{"s":"hpc","w":2500,"i":322},{"s":"hpc","w":2450,"i":320},{"s":"hpc","w":2400,"i":319},{"s":"hpc","w":2390,"i":324},{"s":"hpc","w":2380,"i":317},{"s":"hpc","w":2370,"i":322},{"s":"hpc","w":2360,"i":316},{"s":"hpc","w":2350,"i":323},{"s":"hpc","w":2340,"i":315},{"s":"hpc","w":2330,"i":321},{"s":"hpc","w":2320,"i":317},{"s":"hpc","w":2310,"i":324},{"s":"hpc","w":2300,"i":316},{"s":"hpc","w":2290,"i":322},{"s":"hpc","w":2280,"i":318},{"s":"hpc","w":2270,"i":325},{"s":"hpc","w":2260,"i":317},{"s":"hpc","w":2250,"i":323},{"s":"hpc","w":2240,"i":318},{"s":"hpc","w":2230,"i":326},{"s":"hpc","w":2220,"i":319},{"s":"hpc","w":2210,"i":324},{"s":"hpc","w":2200,"i":321},{"s":"hpc","w":2190,"i":329},{"s":"hpc","w":2180,"i":334},{"s":"hpc","w":2170,"i":342},{"s":"hpc","w":2165,"i":328},{"s":"hpc","w":2160,"i":336},{"s":"hpc","w":2150,"i":322},{"s":"hpc","w":2140,"i":330},{"s":"hpc","w":2130,"i":318},{"s":"hpc","w":2120,"i":326},{"s":"hpc","w":2110,"i":317},{"s":"hpc","w":2100,"i":324},{"s":"hpc","w":2090,"i":316},{"s":"hpc","w":2080,"i":326},{"s":"hpc","w":2070,"i":319},{"s":"hpc","w":2060,"i":330},{"s":"hpc","w":2050,"i":321},{"s":"hpc","w":2040,"i":334},{"s":"hpc","w":2030,"i":323},{"s":"hpc","w":2020,"i":332},{"s":"hpc","w":2010,"i":321},{"s":"hpc","w":2000,"i":334},{"s":"hpc","w":1990,"i":324},{"s":"hpc","w":1980,"i":329},{"s":"hpc","w":1970,"i":320},{"s":"hpc","w":1960,"i":327},{"s":"hpc","w":1950,"i":318},{"s":"hpc","w":1940,"i":324},{"s":"hpc","w":1930,"i":317},{"s":"hpc","w":1920,"i":322},{"s":"hpc","w":1910,"i":316},{"s":"hpc","w":1900,"i":320},{"s":"hpc","w":1890,"i":315},{"s":"hpc","w":1880,"i":318},{"s":"hpc","w":1870,"i":315},{"s":"hpc","w":1860,"i":317},{"s":"hpc","w":1850,"i":314},{"s":"hpc","w":1840,"i":316},{"s":"hpc","w":1830,"i":314},{"s":"hpc","w":1820,"i":315},{"s":"hpc","w":1810,"i":314},{"s":"hpc","w":1800,"i":314},
{"s":"pap","w":4000,"i":12},{"s":"pap","w":3980,"i":13},{"s":"pap","w":3960,"i":11},{"s":"pap","w":3940,"i":12},{"s":"pap","w":3920,"i":10},{"s":"pap","w":3900,"i":12},{"s":"pap","w":3880,"i":11},{"s":"pap","w":3860,"i":9},{"s":"pap","w":3840,"i":11},{"s":"pap","w":3820,"i":10},{"s":"pap","w":3800,"i":9},{"s":"pap","w":3780,"i":10},{"s":"pap","w":3760,"i":8},{"s":"pap","w":3740,"i":9},{"s":"pap","w":3720,"i":8},{"s":"pap","w":3700,"i":9},{"s":"pap","w":3680,"i":7},{"s":"pap","w":3660,"i":8},{"s":"pap","w":3640,"i":7},{"s":"pap","w":3620,"i":8},{"s":"pap","w":3600,"i":6},{"s":"pap","w":3580,"i":7},{"s":"pap","w":3560,"i":6},{"s":"pap","w":3540,"i":6},{"s":"pap","w":3520,"i":5},{"s":"pap","w":3500,"i":6},{"s":"pap","w":3480,"i":5},{"s":"pap","w":3460,"i":5},{"s":"pap","w":3440,"i":4},{"s":"pap","w":3420,"i":5},{"s":"pap","w":3400,"i":4},{"s":"pap","w":3380,"i":4},{"s":"pap","w":3360,"i":4},{"s":"pap","w":3340,"i":4},{"s":"pap","w":3320,"i":4},{"s":"pap","w":3300,"i":5},{"s":"pap","w":3280,"i":6},{"s":"pap","w":3260,"i":9},{"s":"pap","w":3245,"i":13},{"s":"pap","w":3235,"i":10},{"s":"pap","w":3220,"i":10},{"s":"pap","w":3200,"i":11},{"s":"pap","w":3180,"i":13},{"s":"pap","w":3160,"i":17},{"s":"pap","w":3150,"i":23},{"s":"pap","w":3140,"i":21},{"s":"pap","w":3130,"i":26},{"s":"pap","w":3120,"i":22},{"s":"pap","w":3110,"i":31},{"s":"pap","w":3100,"i":27},{"s":"pap","w":3090,"i":36},{"s":"pap","w":3080,"i":32},{"s":"pap","w":3070,"i":35},{"s":"pap","w":3060,"i":37},{"s":"pap","w":3050,"i":39},{"s":"pap","w":3040,"i":44},{"s":"pap","w":3030,"i":52},{"s":"pap","w":3020,"i":74},{"s":"pap","w":3010,"i":86},{"s":"pap","w":3005,"i":89},{"s":"pap","w":3000,"i":74},{"s":"pap","w":2993,"i":51},{"s":"pap","w":2985,"i":59},{"s":"pap","w":2975,"i":72},{"s":"pap","w":2967,"i":74},{"s":"pap","w":2960,"i":64},{"s":"pap","w":2955,"i":57},{"s":"pap","w":2948,"i":69},{"s":"pap","w":2940,"i":76},{"s":"pap","w":2932,"i":64},{"s":"pap","w":2920,"i":52},{"s":"pap","w":2905,"i":44},{"s":"pap","w":2890,"i":41},{"s":"pap","w":2875,"i":38},{"s":"pap","w":2865,"i":37},{"s":"pap","w":2855,"i":44},{"s":"pap","w":2848,"i":64},{"s":"pap","w":2840,"i":77},{"s":"pap","w":2833,"i":59},{"s":"pap","w":2825,"i":39},{"s":"pap","w":2815,"i":37},{"s":"pap","w":2800,"i":36},{"s":"pap","w":2790,"i":36},{"s":"pap","w":2770,"i":38},{"s":"pap","w":2750,"i":42},{"s":"pap","w":2740,"i":44},{"s":"pap","w":2720,"i":52},{"s":"pap","w":2700,"i":62},{"s":"pap","w":2690,"i":67},{"s":"pap","w":2670,"i":71},{"s":"pap","w":2650,"i":75},{"s":"pap","w":2640,"i":77},{"s":"pap","w":2620,"i":86},{"s":"pap","w":2600,"i":96},{"s":"pap","w":2590,"i":101},{"s":"pap","w":2575,"i":114},{"s":"pap","w":2560,"i":128},{"s":"pap","w":2550,"i":138},{"s":"pap","w":2540,"i":151},{"s":"pap","w":2530,"i":162},{"s":"pap","w":2520,"i":177},{"s":"pap","w":2512,"i":204},{"s":"pap","w":2505,"i":249},{"s":"pap","w":2498,"i":299},{"s":"pap","w":2492,"i":326},{"s":"pap","w":2487,"i":331},{"s":"pap","w":2480,"i":324},{"s":"pap","w":2470,"i":309},{"s":"pap","w":2460,"i":289},{"s":"pap","w":2450,"i":266},{"s":"pap","w":2440,"i":242},{"s":"pap","w":2430,"i":219},{"s":"pap","w":2420,"i":192},{"s":"pap","w":2410,"i":170},{"s":"pap","w":2400,"i":158},{"s":"pap","w":2390,"i":151},{"s":"pap","w":2380,"i":146},{"s":"pap","w":2370,"i":142},{"s":"pap","w":2360,"i":134},{"s":"pap","w":2350,"i":124},{"s":"pap","w":2340,"i":116},{"s":"pap","w":2330,"i":106},{"s":"pap","w":2320,"i":99},{"s":"pap","w":2310,"i":92},{"s":"pap","w":2300,"i":86},{"s":"pap","w":2290,"i":82},{"s":"pap","w":2280,"i":74},{"s":"pap","w":2270,"i":69},{"s":"pap","w":2260,"i":62},{"s":"pap","w":2250,"i":58},{"s":"pap","w":2240,"i":56},{"s":"pap","w":2230,"i":50},{"s":"pap","w":2220,"i":52},{"s":"pap","w":2210,"i":46},{"s":"pap","w":2200,"i":44},{"s":"pap","w":2190,"i":48},{"s":"pap","w":2180,"i":38},{"s":"pap","w":2170,"i":44},{"s":"pap","w":2160,"i":32},{"s":"pap","w":2150,"i":40},{"s":"pap","w":2140,"i":28},{"s":"pap","w":2130,"i":37},{"s":"pap","w":2120,"i":30},{"s":"pap","w":2110,"i":39},{"s":"pap","w":2100,"i":29},{"s":"pap","w":2090,"i":36},{"s":"pap","w":2080,"i":26},{"s":"pap","w":2070,"i":38},{"s":"pap","w":2060,"i":30},{"s":"pap","w":2050,"i":40},{"s":"pap","w":2040,"i":32},{"s":"pap","w":2030,"i":44},{"s":"pap","w":2020,"i":36},{"s":"pap","w":2010,"i":52},{"s":"pap","w":2005,"i":44},{"s":"pap","w":2000,"i":64},{"s":"pap","w":1995,"i":104},{"s":"pap","w":1990,"i":146},{"s":"pap","w":1985,"i":119},{"s":"pap","w":1980,"i":74},{"s":"pap","w":1975,"i":84},{"s":"pap","w":1968,"i":64},{"s":"pap","w":1960,"i":86},{"s":"pap","w":1955,"i":89},{"s":"pap","w":1950,"i":69},{"s":"pap","w":1945,"i":44},{"s":"pap","w":1940,"i":37},{"s":"pap","w":1930,"i":32},{"s":"pap","w":1920,"i":26},{"s":"pap","w":1910,"i":29},{"s":"pap","w":1900,"i":22},{"s":"pap","w":1890,"i":24},{"s":"pap","w":1880,"i":19},{"s":"pap","w":1870,"i":21},{"s":"pap","w":1860,"i":16},{"s":"pap","w":1850,"i":18},{"s":"pap","w":1840,"i":14},{"s":"pap","w":1830,"i":17},{"s":"pap","w":1820,"i":13},{"s":"pap","w":1810,"i":15},{"s":"pap","w":1800,"i":12}
]},
"mark": {"type": "line", "color": "#1a1a1a", "strokeWidth": 1.1},
"encoding": {"detail": {"field": "s"}}
},
{
"data": {"values": [{"w": 2700, "w2": 2395, "i": 1387, "i2": 819}]},
"mark": {"type": "rect", "fill": null, "fillOpacity": 0, "stroke": "#FBC21A", "strokeWidth": 3, "strokeDash": [9, 5]},
"encoding": {"x2": {"field": "w2"}, "y2": {"field": "i2"}}
},
{
"data": {"values": [{"w": 2544, "i": 761}]},
"mark": {"type": "point", "shape": "M0,-1A0.75,1,0,1,1,0,1A0.75,1,0,1,1,0,-1Z", "size": 9216, "filled": false, "color": "#FBC21A", "strokeWidth": 3, "strokeDash": [9, 5], "opacity": 1}
},
{
"data": {"values": [{"w": 2484, "i": 173}]},
"mark": {"type": "point", "shape": "M0,-1A0.418,1,0,1,1,0,1A0.418,1,0,1,1,0,-1Z", "size": 108900, "filled": false, "color": "#FBC21A", "strokeWidth": 3, "strokeDash": [9, 5], "opacity": 1}
},
{
"data": {"values": [
{"t": "electrospun sample:", "w": 1500, "i": 1414},
{"t": "HPC: PVA=9:1 (m:m)", "w": 1500, "i": 1381},
{"t": "electrospun sample:", "w": 1500, "i": 1292},
{"t": "HPC: PVA=8:2 (m:m)", "w": 1500, "i": 1259},
{"t": "electrospun sample:", "w": 1500, "i": 1171},
{"t": "HPC: PVA=7:3 (m:m)", "w": 1500, "i": 1137},
{"t": "electrospun sample:", "w": 1500, "i": 1049},
{"t": "HPC: PVA=6:4 (m:m)", "w": 1500, "i": 1016},
{"t": "electrospun sample:", "w": 1500, "i": 927},
{"t": "HPC: PVA=5:5 (m:m)", "w": 1500, "i": 894}
]},
"mark": {"type": "text", "font": "Liberation Serif", "fontSize": 29, "fontWeight": "bold", "color": "#1D6FBA", "align": "center", "baseline": "middle"},
"encoding": {"text": {"field": "t"}}
},
{
"data": {"values": [
{"t": "physical mixture", "w": 1800, "i": 787, "kind": "mixture"},
{"t": "polysorbate 20", "w": 1800, "i": 642, "kind": "excipient"},
{"t": "PVA", "w": 1800, "i": 492, "kind": "excipient"},
{"t": "HPC", "w": 1800, "i": 357, "kind": "excipient"},
{"t": "papaverine-HCl", "w": 1800, "i": 102, "kind": "drug"}
]},
"mark": {"type": "text", "font": "Liberation Serif", "fontSize": 21, "fontWeight": "bold", "align": "left", "baseline": "middle", "dx": 1},
"encoding": {"text": {"field": "t"},
  "color": {"field": "kind", "type": "nominal", "scale": {"domain": ["mixture", "excipient", "drug"], "range": ["#1AA3E0", "#1DAA55", "#F01010"]}, "legend": null}}
}
]
}
